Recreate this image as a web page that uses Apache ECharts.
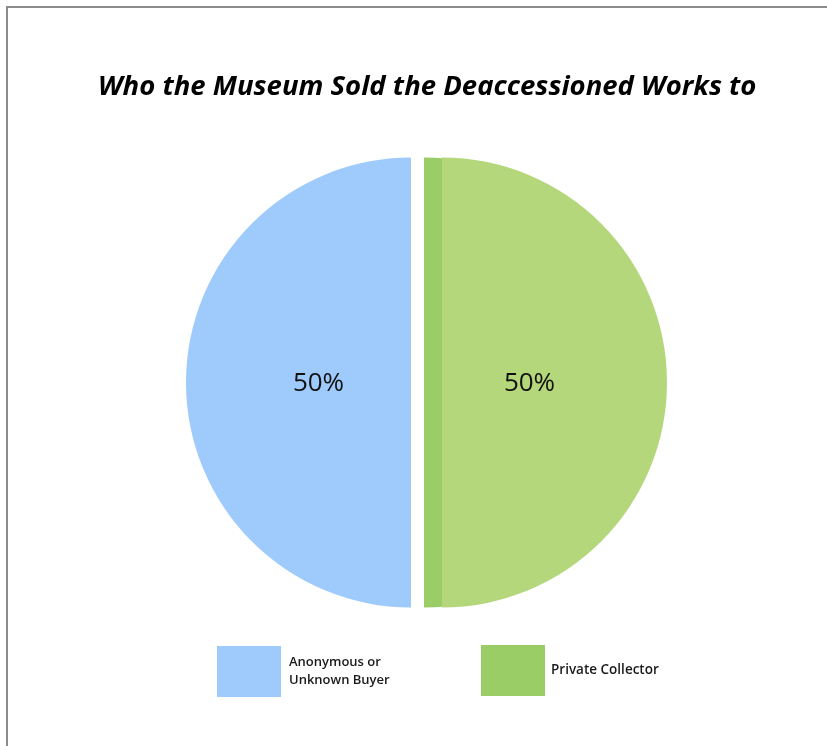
<!DOCTYPE html>
<html>
<head>
<meta charset="utf-8">
<script src="https://cdn.jsdelivr.net/npm/echarts@6/dist/echarts.min.js"></script>
<style>
  html, body { margin: 0; padding: 0; background: #fff; }
  #chart { width: 827px; height: 746px; }
</style>
</head>
<body>
<div id="chart"></div>
<script>
var myChart = echarts.init(document.getElementById('chart'));

var buyers = ['Anonymous or\nUnknown Buyer', 'Private Collector'];
var shares = [50, 50];
var legendColors = ['#9ecbfb', '#9acd66'];
var blueColors = ['#9ecbfb', 'rgba(0,0,0,0)'];
var edgeColors = ['rgba(0,0,0,0)', '#9acd66'];
var faceColors = ['rgba(0,0,0,0)', '#b4d77b'];

var cy = 382.5;
var R = 225;

function makeData(colors, labelIdx, offset) {
  return buyers.map(function (name, i) {
    return {
      name: name,
      value: shares[i],
      itemStyle: { color: colors[i] },
      label: i === labelIdx ? { show: true, offset: offset } : { show: false }
    };
  });
}

var labelFont = {
  position: 'inside',
  formatter: '{d}%',
  fontFamily: 'Open Sans',
  fontSize: 26,
  color: '#111'
};

function pieSeries(name, cx, data, z) {
  return {
    name: name,
    type: 'pie',
    center: [cx, cy],
    radius: R,
    clockwise: false,
    startAngle: 90,
    silent: true,
    z: z,
    label: labelFont,
    labelLine: { show: false },
    data: data
  };
}

var option = {
  backgroundColor: '#fff',
  animation: false,
  title: {
    text: 'Who the Museum Sold the Deaccessioned Works to',
    left: 93,
    top: 69,
    textStyle: {
      fontFamily: 'Open Sans',
      fontSize: 27.5,
      fontWeight: 'bold',
      fontStyle: 'italic',
      color: '#000'
    }
  },
  graphic: [{
    type: 'rect',
    shape: { x: 7, y: 7, width: 900, height: 900 },
    style: { fill: 'none', stroke: '#8c8c8c', lineWidth: 2 },
    z: -1
  }],
  legend: [{
    data: [{ name: buyers[0], itemStyle: { color: legendColors[0] } }],
    left: 212,
    top: 641,
    icon: 'rect',
    itemWidth: 64,
    itemHeight: 51,
    selectedMode: false,
    textStyle: { fontFamily: 'Open Sans', fontSize: 13, fontWeight: 600, color: '#1a1a1a', lineHeight: 18, padding: [4, 0, 0, 3] }
  }, {
    data: [{ name: buyers[1], itemStyle: { color: legendColors[1] } }],
    left: 476,
    top: 640,
    icon: 'rect',
    itemWidth: 64,
    itemHeight: 51,
    selectedMode: false,
    textStyle: { fontFamily: 'Open Sans', fontSize: 13.5, fontWeight: 600, color: '#1a1a1a', padding: [2, 0, 0, 1] }
  }],
  series: [
    pieSeries('blue', 411, makeData(blueColors, 0, [23, 1]), 2),
    pieSeries('edge', 424, makeData(edgeColors, -1, [0, 0]), 3),
    pieSeries('face', 442, makeData(faceColors, 1, [-28, 1]), 4)
  ]
};

myChart.setOption(option);
</script>
</body>
</html>
